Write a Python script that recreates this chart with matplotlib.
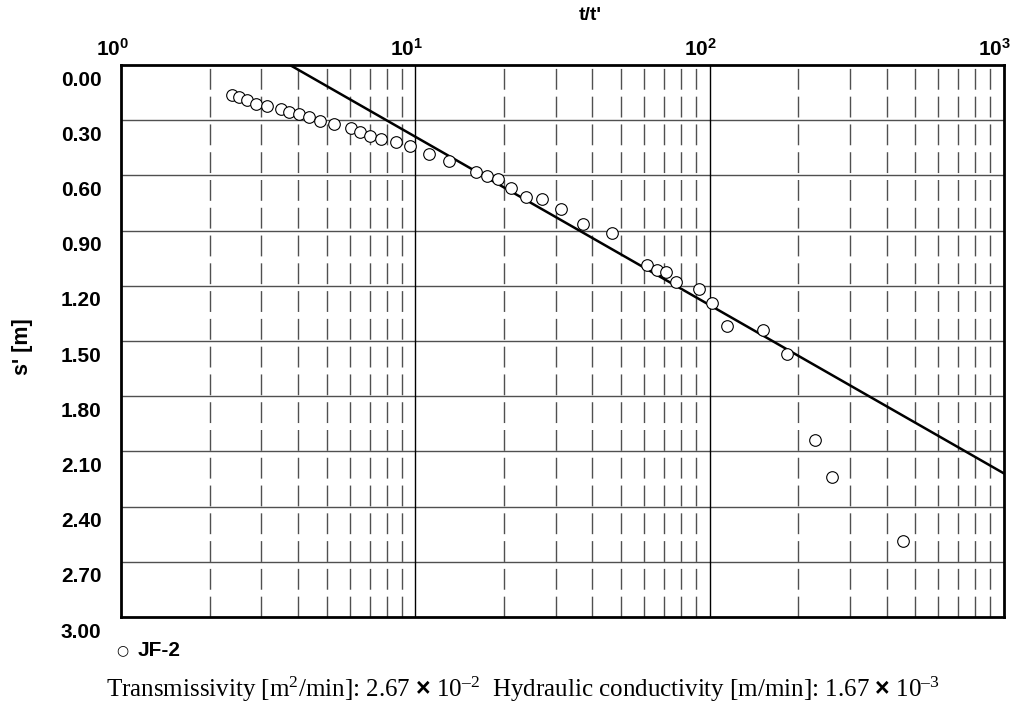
import numpy as np
import matplotlib.pyplot as plt
from matplotlib.transforms import ScaledTranslation

# recovery data, well JF-2
t_ratio = [2.38, 2.52, 2.67, 2.87, 3.14, 3.50, 3.73, 4.02, 4.36, 4.76,
           5.29, 6.03, 6.49, 7.02, 7.67, 8.58, 9.62, 11.1, 13.0, 16.1,
           17.5, 19.1, 21.1, 23.7, 26.9, 31.3, 37.2, 46.6, 61.4, 66.1,
           71.1, 76.7, 92.3, 102.2, 114.3, 152.3, 182.8, 229.0, 260.0, 453.0]
residual = [0.163, 0.172, 0.190, 0.214, 0.223, 0.241, 0.254, 0.265, 0.284, 0.304,
            0.321, 0.344, 0.364, 0.384, 0.404, 0.420, 0.440, 0.484, 0.522, 0.583,
            0.601, 0.621, 0.670, 0.716, 0.730, 0.783, 0.864, 0.913, 1.085, 1.114,
            1.125, 1.178, 1.217, 1.292, 1.418, 1.442, 1.571, 2.038, 2.239, 2.589]

# straight-line fit s' = a + b*log10(t/t')
fit_a = -0.525
fit_b = 0.9147

y_ticks = [0.0, 0.3, 0.6, 0.9, 1.2, 1.5, 1.8, 2.1, 2.4, 2.7, 3.0]
x_majors = [1, 10, 100, 1000]
x_labels = ['$\\mathbf{10}^{\\mathbf{%d}}$' % k for k in range(4)]

plt.rcParams['font.family'] = ['Liberation Sans', 'DejaVu Sans']
plt.rcParams['mathtext.fontset'] = 'custom'
plt.rcParams['mathtext.bf'] = 'Liberation Sans:bold'
plt.rcParams['mathtext.rm'] = 'Liberation Serif'
plt.rcParams['mathtext.it'] = 'Liberation Serif:italic'

fig = plt.figure(figsize=(10.17, 7.05), dpi=100)
ax = fig.add_axes([0.119, 0.1248, 0.868, 0.783])

ax.set_xscale('log')
ax.set_xlim(1, 1000)
ax.set_ylim(3.0, 0.0)

# grid: solid horizontals, dashed verticals at minor decades
for y in y_ticks[1:-1]:
    ax.axhline(y, color='#505050', lw=1.0, zorder=1)
for dec in x_majors[:-1]:
    for m in range(2, 10):
        ax.axvline(dec * m, color='#505050', lw=1.0, linestyle=(0, (15, 5)), zorder=1)
for dec in x_majors[1:-1]:
    ax.axvline(dec, color='black', lw=1.0, zorder=1)

# fitted line
xs = np.logspace(0, 3, 200)
ax.plot(xs, fit_a + fit_b * np.log10(xs), color='black', lw=1.8, zorder=2)

ax.scatter(t_ratio, residual, s=70, facecolors='white', edgecolors='black',
           linewidths=0.8, zorder=3)

for sp in ax.spines.values():
    sp.set_linewidth(2.0)

ax.xaxis.tick_top()
ax.set_xticks(x_majors)
ax.set_xticklabels(x_labels, fontsize=15)
ax.set_xticks([], minor=True)
ax.set_yticks(y_ticks)
ax.set_yticklabels(['%.2f' % v for v in y_ticks], fontsize=15, fontweight='bold')
ax.tick_params(axis='both', length=0)
ax.tick_params(axis='y', pad=14)
ax.tick_params(axis='x', pad=4)

# shift labels the way the original software places them
for lab in ax.get_yticklabels():
    lab.set_transform(lab.get_transform() + ScaledTranslation(0, -13 / 100, fig.dpi_scale_trans))
for lab in ax.get_xticklabels():
    lab.set_transform(lab.get_transform() + ScaledTranslation(-9 / 100, 0, fig.dpi_scale_trans))

fig.text(0.580, 0.978, "t/t'", ha='center', va='center', fontsize=14, fontweight='bold')
fig.text(0.022, 0.509, "s' [m]", ha='center', va='center', rotation=90,
         fontsize=15.5, fontweight='bold')

# legend entry
fig.text(0.120, 0.078, '\u25cb', ha='center', va='center', fontsize=10, family='DejaVu Sans')
fig.text(0.135, 0.078, 'JF-2', ha='left', va='center', fontsize=15, fontweight='bold')

fig.text(0.514, 0.0113,
         'Transmissivity [m$^{2}$/min]: 2.67 $\\mathbf{\u00d7}$ 10$^{\u2013 2}$  '
         'Hydraulic conductivity [m/min]: 1.67 $\\mathbf{\u00d7}$ 10$^{\u2013 3}$',
         ha='center', va='baseline', fontsize=18, family='Liberation Serif')

fig.savefig('out.png', dpi=100)
